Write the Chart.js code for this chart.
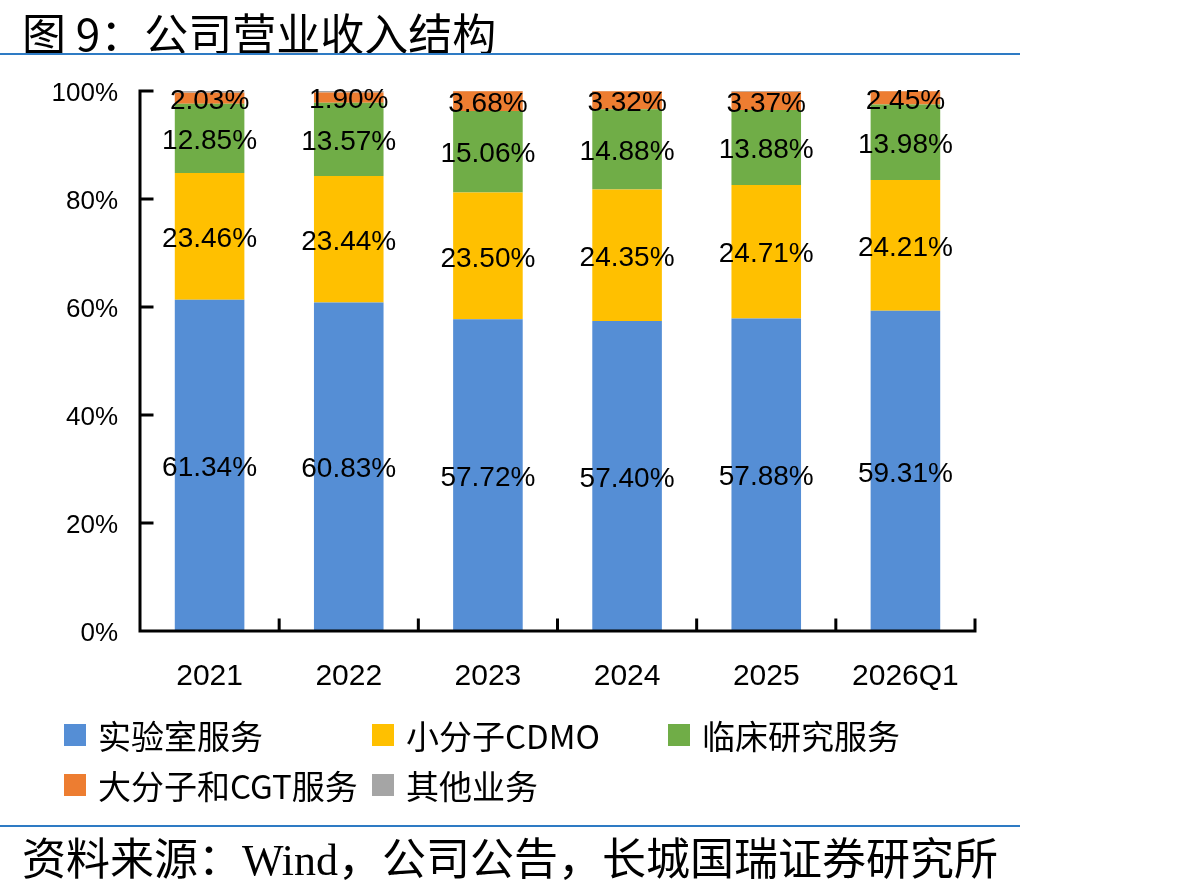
<!DOCTYPE html>
<html>
<head>
<meta charset="utf-8">
<script src="https://cdn.jsdelivr.net/npm/chart.js@4.4.1/dist/chart.umd.min.js"></script>
<style>
  html, body { margin: 0; padding: 0; background: #fff; }
  body { width: 1187px; height: 891px; position: relative; overflow: hidden; }
  #chart { position: absolute; left: 0; top: 0; }
  .title {
    position: absolute; left: 22px; top: 0px;
    font: 44px "Noto Sans CJK SC", sans-serif; color: #000; white-space: nowrap;
  }
  .rule { position: absolute; left: 0; width: 1020px; height: 2px; background: #2e7bc4; }
  .source {
    position: absolute; left: 22px; top: 824px;
    font: 44px "Liberation Serif", "Noto Sans CJK SC", serif; color: #000; white-space: nowrap;
  }
  #legend {
    position: absolute; left: 64px; top: 713px;
    display: grid; grid-template-columns: 308px 296px auto; row-gap: 6px;
    font: 33px "Noto Sans CJK SC", sans-serif; color: #000;
  }
  .item { display: flex; align-items: center; height: 44px; white-space: nowrap; }
  .box { width: 22px; height: 22px; margin-right: 12px; }
</style>
</head>
<body>
<canvas id="chart" width="1187" height="891"></canvas>
<div class="title">图 9：公司营业收入结构</div>
<div class="rule" style="top:53px"></div>
<div id="legend"></div>
<div class="rule" style="top:825px"></div>
<div class="source">资料来源：Wind，公司公告，长城国瑞证券研究所</div>

<script>
const categories = ["2021", "2022", "2023", "2024", "2025", "2026Q1"];

const seriesNames = ["实验室服务", "小分子CDMO", "临床研究服务", "大分子和CGT服务", "其他业务"];
const seriesColors = ["#558ed5", "#ffc000", "#70ad47", "#ed7d31", "#a5a5a5"];

const labServices = [61.34, 60.83, 57.72, 57.40, 57.88, 59.31];
const smallMolecule = [23.46, 23.44, 23.50, 24.35, 24.71, 24.21];
const clinical = [12.85, 13.57, 15.06, 14.88, 13.88, 13.98];
const largeMolecule = [2.03, 1.90, 3.68, 3.32, 3.37, 2.45];
const others = [0.32, 0.26, 0.04, 0.05, 0.16, 0.05];

const yTicks = [0, 20, 40, 60, 80, 100];

const PLOT_LEFT = 140;
const PLOT_RIGHT = 975;
const PLOT_TOP = 91;
const PLOT_BOTTOM = 631;

const legend = document.getElementById("legend");
seriesNames.forEach((name, i) => {
  const div = document.createElement("div");
  div.className = "item";
  div.innerHTML = `<span class="box" style="background:${seriesColors[i]}"></span>${name}`;
  legend.appendChild(div);
});

const allSeries = [labServices, smallMolecule, clinical, largeMolecule, others];

// value labels in the middle of each segment, not for "其他业务"
const valueLabels = {
  id: "valueLabels",
  afterDatasetsDraw(chart) {
    const ctx = chart.ctx;
    ctx.save();
    ctx.font = '28px "Liberation Sans", sans-serif';
    ctx.fillStyle = "#000";
    ctx.textAlign = "center";
    ctx.textBaseline = "middle";
    for (let d = 0; d < 4; d++) {
      const meta = chart.getDatasetMeta(d);
      meta.data.forEach((bar, i) => {
        const y = (bar.y + bar.base) / 2 + 3;
        ctx.fillText(allSeries[d][i].toFixed(2) + "%", bar.x, y);
      });
    }
    ctx.restore();
  }
};

// axis lines and inward tick marks
const axisMarks = {
  id: "axisMarks",
  afterDatasetsDraw(chart) {
    const ctx = chart.ctx;
    const xs = chart.scales.x;
    const ys = chart.scales.y;
    const area = chart.chartArea;
    ctx.save();
    ctx.strokeStyle = "#000";
    ctx.lineWidth = 3;
    ctx.lineCap = "square";
    ctx.beginPath();
    ctx.moveTo(area.left, ys.getPixelForValue(100));
    ctx.lineTo(area.left, ys.getPixelForValue(0));
    ctx.lineTo(area.right, ys.getPixelForValue(0));
    yTicks.forEach(v => {
      const y = ys.getPixelForValue(v);
      ctx.moveTo(area.left, y);
      ctx.lineTo(area.left + 12, y);
    });
    const step = (area.right - area.left) / categories.length;
    for (let k = 1; k <= categories.length; k++) {
      const x = xs.getPixelForValue(k - 1) + step / 2;
      ctx.moveTo(x, area.bottom);
      ctx.lineTo(x, area.bottom - 11);
    }
    ctx.stroke();
    ctx.restore();
  }
};

new Chart(document.getElementById("chart"), {
  type: "bar",
  data: {
    labels: categories,
    datasets: allSeries.map((data, i) => ({
      label: seriesNames[i],
      data: data,
      backgroundColor: seriesColors[i],
      borderWidth: 0,
      barPercentage: 0.5,
      categoryPercentage: 1.0
    }))
  },
  options: {
    animation: false,
    responsive: false,
    layout: {
      padding: { left: 0, top: PLOT_TOP, right: 1187 - PLOT_RIGHT, bottom: 0 }
    },
    scales: {
      x: {
        stacked: true,
        grid: { display: false, drawTicks: false },
        border: { display: false },
        ticks: {
          padding: 28,
          color: "#000",
          font: { family: '"Liberation Sans", sans-serif', size: 30 }
        },
        afterFit(scale) { scale.height = 891 - PLOT_BOTTOM; }
      },
      y: {
        stacked: true,
        min: 0,
        max: 100,
        grid: { display: false, drawTicks: false },
        border: { display: false },
        afterBuildTicks(scale) { scale.ticks = yTicks.map(v => ({ value: v })); },
        ticks: {
          padding: 22,
          labelOffset: 3,
          color: "#000",
          font: { family: '"Liberation Sans", sans-serif', size: 26 },
          callback: v => v + "%"
        },
        afterFit(scale) { scale.width = PLOT_LEFT; }
      }
    },
    plugins: {
      legend: { display: false },
      tooltip: { enabled: false }
    }
  },
  plugins: [valueLabels, axisMarks]
});
</script>
</body>
</html>
